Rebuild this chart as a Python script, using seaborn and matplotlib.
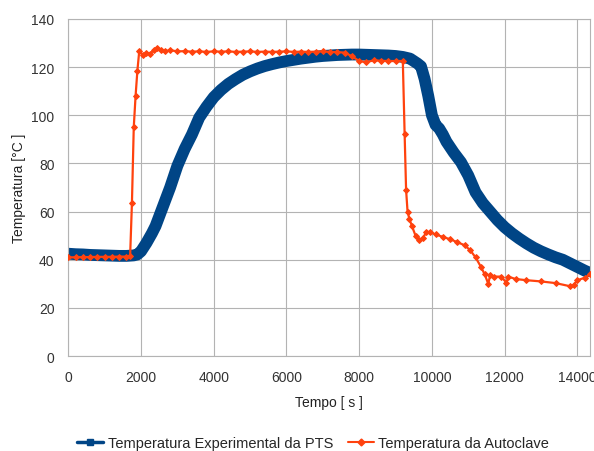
import pandas as pd
import seaborn as sns
import matplotlib.pyplot as plt
from matplotlib.lines import Line2D

# Temperatura Experimental da PTS (blue)
pts_time = [0, 200, 400, 600, 800, 1000, 1200, 1400, 1600, 1800, 1900, 2000, 2150, 2300,
            2400, 2500, 2600, 2700, 2800, 2900, 3000, 3100, 3200, 3300, 3400, 3500, 3600,
            3800, 4000, 4200, 4400, 4600, 4800, 5000, 5200, 5400, 5600, 5800, 6000, 6200,
            6400, 6600, 6800, 7000, 7200, 7400, 7600, 7800, 8000, 8200, 8400, 8600, 8800,
            9000, 9200, 9400, 9500, 9600, 9700, 9800, 9900, 10000, 10100, 10200, 10300,
            10400, 10600, 10800, 11000, 11200, 11400, 11600, 11800, 12000, 12200, 12400,
            12600, 12800, 13000, 13200, 13400, 13600, 13800, 14000, 14200, 14350]
pts_temp = [42.5, 42.3, 42.2, 42.0, 41.9, 41.8, 41.7, 41.6, 41.6, 41.8, 42.2, 43.5, 47.0, 51.0,
            54.0, 58.0, 62.0, 66.0, 70.0, 74.5, 79.0, 82.5, 86.0, 89.0, 92.0, 95.5, 99.0,
            103.5, 107.5, 110.5, 113.0, 115.0, 116.8, 118.2, 119.4, 120.4, 121.2, 121.9,
            122.5, 123.0, 123.5, 123.9, 124.3, 124.6, 124.8, 125.0, 125.1, 125.2, 125.2,
            125.1, 125.0, 124.9, 124.8, 124.6, 124.2, 123.5, 122.5, 121.5, 120.3, 115.0,
            108.0, 100.0, 96.0, 94.5, 92.0, 89.0, 84.5, 80.5, 75.0, 68.0, 63.5, 60.0, 56.5,
            53.5, 51.0, 48.8, 46.8, 45.0, 43.5, 42.2, 41.0, 40.0, 38.5, 37.0, 35.5, 34.5]

# Temperatura da Autoclave (orange)
auto_time = [0, 200, 400, 600, 800, 1000, 1200, 1400, 1600, 1700, 1750, 1800, 1850, 1900,
             1950, 2050, 2150, 2250, 2350, 2450, 2550, 2650, 2800, 3000, 3200, 3400, 3600,
             3800, 4000, 4200, 4400, 4600, 4800, 5000, 5200, 5400, 5600, 5800, 6000, 6200,
             6400, 6600, 6800, 7000, 7200, 7400, 7600, 7800, 8000, 8200, 8400, 8600, 8800,
             9000, 9200, 9250, 9290, 9330, 9380, 9450, 9550, 9650, 9750, 9850, 9950, 10100,
             10300, 10500, 10700, 10900, 11050, 11200, 11350, 11450, 11550, 11600, 11700,
             11900, 12050, 12100, 12300, 12600, 13000, 13400, 13800, 13900, 14000, 14200, 14360]
auto_temp = [41.0, 41.0, 41.1, 41.1, 41.2, 41.2, 41.2, 41.3, 41.3, 41.5, 63.6, 95.0, 108.0,
             118.5, 126.5, 125.0, 126.0, 125.5, 127.0, 128.0, 127.0, 126.5, 127.0, 126.5,
             126.6, 126.4, 126.5, 126.3, 126.5, 126.4, 126.5, 126.3, 126.4, 126.5, 126.3,
             126.4, 126.3, 126.4, 126.5, 126.3, 126.4, 126.3, 126.4, 126.5, 126.3, 126.2,
             126.0, 124.5, 122.5, 122.0, 122.8, 122.6, 122.5, 122.5, 122.5, 92.0, 69.0, 60.0,
             57.0, 54.0, 50.0, 48.0, 49.0, 51.5, 51.5, 50.5, 49.5, 48.5, 47.3, 46.0, 44.0,
             41.0, 37.0, 34.0, 30.0, 33.5, 33.0, 33.0, 30.5, 33.0, 32.0, 31.5, 31.0, 30.3,
             29.0, 29.5, 31.5, 32.5, 34.0]

blue = '#004586'
orange = '#ff420e'

df_pts = pd.DataFrame({'Tempo': pts_time, 'Temp': pts_temp})
df_auto = pd.DataFrame({'Tempo': auto_time, 'Temp': auto_temp})

sns.set_theme(style='whitegrid')
plt.rcParams['font.family'] = ['Liberation Sans', 'DejaVu Sans']

fig = plt.figure(figsize=(5.94, 4.52), dpi=100)
ax = fig.add_axes([0.115, 0.21, 0.879, 0.746])

# thick blue band (line + dense small squares)
sns.lineplot(data=df_pts, x='Tempo', y='Temp', ax=ax, color=blue, linewidth=8.5,
             marker='s', markersize=4, markeredgecolor=blue, sort=False,
             solid_capstyle='butt', solid_joinstyle='round', legend=False, zorder=2)
sns.lineplot(data=df_auto, x='Tempo', y='Temp', ax=ax, color=orange, linewidth=1.6,
             marker='D', markersize=3, markeredgecolor=orange, sort=False,
             legend=False, zorder=3)

ax.set_xlim(0, 14360)
ax.set_ylim(0, 140)
ax.set_xticks(range(0, 14001, 2000))
ax.set_yticks(range(0, 141, 20))
ax.grid(True, color='#b3b3b3', linewidth=0.8)
for s in ax.spines.values():
    s.set_color('#b3b3b3')
    s.set_linewidth(0.8)
ax.tick_params(labelsize=10, colors='#333333', pad=4)
ax.set_xlabel('Tempo [ s ]', fontsize=10, color='#222222', labelpad=8)
ax.set_ylabel('Temperatura [°C ]', fontsize=10, color='#222222', labelpad=4)

handles = [Line2D([], [], color=blue, lw=2.5, marker='s', markersize=5),
           Line2D([], [], color=orange, lw=1.5, marker='D', markersize=3.5)]
labels = ['Temperatura Experimental da PTS', 'Temperatura da Autoclave']
fig.legend(handles, labels, loc='lower center', ncol=2, frameon=False, fontsize=10.5,
           bbox_to_anchor=(0.527, -0.026), handlelength=1.8, handletextpad=0.3,
           columnspacing=1.0)

fig.savefig('out.png', dpi=100)
